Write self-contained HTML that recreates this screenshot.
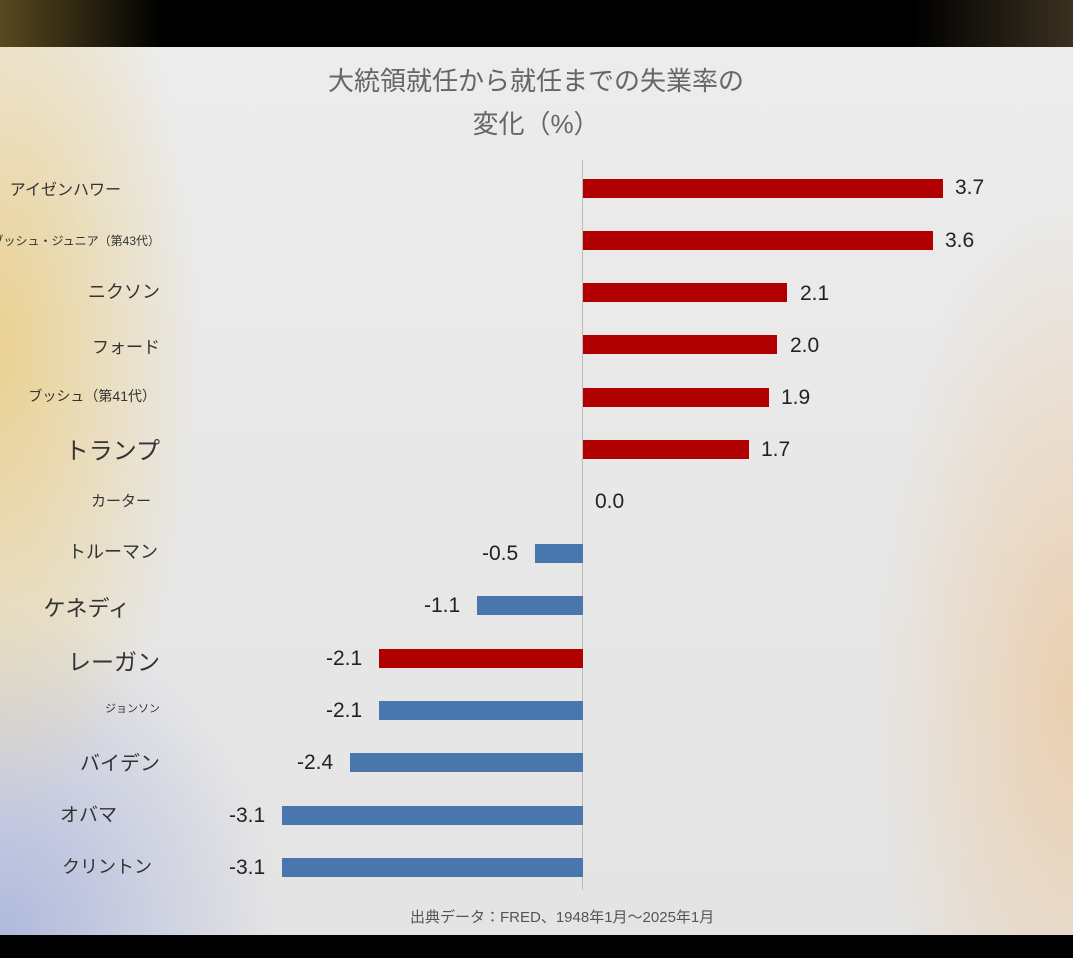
<!DOCTYPE html>
<html><head><meta charset="utf-8"><style>
html,body{margin:0;padding:0}
body{width:1073px;height:958px;position:relative;overflow:hidden;font-family:"Liberation Sans","Noto Sans CJK JP",sans-serif;background:#000}
#top{position:absolute;left:0;top:0;width:1073px;height:47px;background:linear-gradient(90deg,#5a4a20,#000 15%,#000 85%,#3a3020)}
#bg{position:absolute;left:0;top:47px;width:1073px;height:888px;background:
radial-gradient(ellipse 200px 480px at 0px 300px,rgba(235,205,130,0.85),rgba(235,205,130,0) 100%),
radial-gradient(ellipse 280px 330px at 0px 888px,rgba(170,180,220,0.9),rgba(170,180,220,0) 100%),
radial-gradient(ellipse 200px 500px at 1073px 650px,rgba(235,205,170,0.9),rgba(235,205,170,0) 100%),
linear-gradient(#ececec,#e4e4e4);}
.t{position:absolute;color:#666;font-size:26px;text-align:center;width:600px;left:236px}
.bar{position:absolute;height:19px}
.v{position:absolute;font-size:21px;color:#222}
.c{position:absolute;right:913px;color:#333;white-space:nowrap}
</style></head><body>
<div id="top"></div>
<div id="bg"></div>
<div class="t" style="top:61px">大統領就任から就任までの失業率の</div>
<div class="t" style="top:104px">変化（%）</div>
<div style="position:absolute;left:582px;top:160px;width:1px;height:730px;background:#bbb"></div>

<div class="bar" style="left:583px;top:179px;width:360px;background:#b00000"></div><div class="v" style="left:955px;top:176px">3.7</div><div class="c" style="top:176px;font-size:16px;right:952px">アイゼンハワー</div>
<div class="bar" style="left:583px;top:231px;width:350px;background:#b00000"></div><div class="v" style="left:945px;top:229px">3.6</div><div class="c" style="top:232px;font-size:12px">ブッシュ・ジュニア（第43代）</div>
<div class="bar" style="left:583px;top:283px;width:204px;background:#b00000"></div><div class="v" style="left:800px;top:282px">2.1</div><div class="c" style="top:278px;font-size:18px">ニクソン</div>
<div class="bar" style="left:583px;top:335px;width:194px;background:#b00000"></div><div class="v" style="left:790px;top:334px">2.0</div><div class="c" style="top:333px;font-size:17px">フォード</div>
<div class="bar" style="left:583px;top:388px;width:186px;background:#b00000"></div><div class="v" style="left:781px;top:386px">1.9</div><div class="c" style="top:386px;font-size:14px;right:917px">ブッシュ（第41代）</div>
<div class="bar" style="left:583px;top:440px;width:166px;background:#b00000"></div><div class="v" style="left:761px;top:438px">1.7</div><div class="c" style="top:431px;font-size:24px">トランプ</div>
<div class="v" style="left:595px;top:490px">0.0</div><div class="c" style="top:490px;font-size:15px;right:922px">カーター</div>
<div class="bar" style="left:535px;top:544px;width:48px;background:#4a76ae"></div><div class="v" style="left:482px;top:542px">-0.5</div><div class="c" style="top:538px;font-size:18px;right:915px">トルーマン</div>
<div class="bar" style="left:477px;top:596px;width:106px;background:#4a76ae"></div><div class="v" style="left:424px;top:594px">-1.1</div><div class="c" style="top:591px;font-size:22px;right:943px">ケネディ</div>
<div class="bar" style="left:379px;top:649px;width:204px;background:#b00000"></div><div class="v" style="left:326px;top:647px">-2.1</div><div class="c" style="top:643px;font-size:23px">レーガン</div>
<div class="bar" style="left:379px;top:701px;width:204px;background:#4a76ae"></div><div class="v" style="left:326px;top:699px">-2.1</div><div class="c" style="top:700px;font-size:11px">ジョンソン</div>
<div class="bar" style="left:350px;top:753px;width:233px;background:#4a76ae"></div><div class="v" style="left:297px;top:751px">-2.4</div><div class="c" style="top:747px;font-size:20px">バイデン</div>
<div class="bar" style="left:282px;top:806px;width:301px;background:#4a76ae"></div><div class="v" style="left:229px;top:804px">-3.1</div><div class="c" style="top:800px;font-size:19px;right:956px">オバマ</div>
<div class="bar" style="left:282px;top:858px;width:301px;background:#4a76ae"></div><div class="v" style="left:229px;top:856px">-3.1</div><div class="c" style="top:853px;font-size:18px;right:921px">クリントン</div>

<div style="position:absolute;left:410px;top:906px;font-size:15px;color:#555">出典データ：FRED、1948年1月～2025年1月</div>
</body></html>
